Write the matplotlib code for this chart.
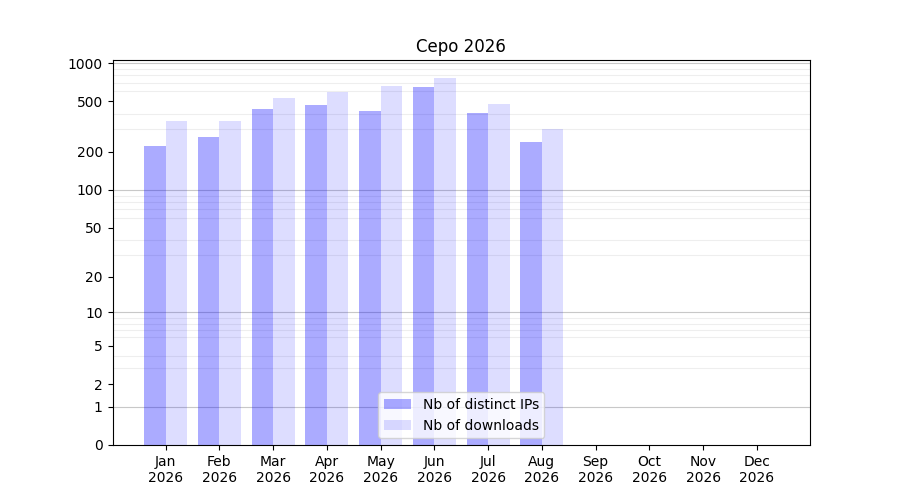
import numpy as np
import matplotlib
matplotlib.use("Agg")
import matplotlib.pyplot as plt

# monthly stats
months = ["Jan", "Feb", "Mar", "Apr", "May", "Jun", "Jul", "Aug", "Sep", "Oct", "Nov", "Dec"]
year = "2026"
distinct_ips = [224, 260, 439, 471, 423, 652, 407, 237, 0, 0, 0, 0]
downloads = [347, 353, 535, 596, 664, 767, 479, 305, 0, 0, 0, 0]
yticks = [0, 1, 2, 5, 10, 20, 50, 100, 200, 500, 1000]

fig, ax = plt.subplots(figsize=(9, 5), dpi=100)

ax.set_yscale("function", functions=(lambda v: np.log10(np.maximum(v, 0) + 1),
                                     lambda t: 10 ** t - 1))

x = np.arange(len(months))
ax.bar(x - 0.2, distinct_ips, width=0.4, color="blue", alpha=0.33,
       label="Nb of distinct IPs", zorder=2)
ax.bar(x + 0.2, downloads, width=0.4, color="blue", alpha=0.133,
       label="Nb of downloads", zorder=2)

# grid: light lines for 2..9 of every decade, darker for decades
minor = [m * d for d in (1, 10, 100) for m in range(2, 10)]
ax.set_yticks(minor, minor=True)
ax.tick_params(axis="y", which="minor", length=0)
ax.grid(axis="y", which="minor", color="#eeeeee", linewidth=0.8, zorder=0)
for d in (1, 10, 100, 1000):
    ax.axhline(d, color="#c8c8c8", linewidth=0.8, zorder=1)

ax.set_yticks(yticks)
ax.set_yticklabels([str(t) for t in yticks])
ax.set_ylim(0, 1057)
ax.set_xticks(x)
ax.set_xticklabels([m + "\n" + year for m in months])
ax.set_title("Cepo 2026")
ax.legend(loc="lower center")

fig.savefig("out.png")
